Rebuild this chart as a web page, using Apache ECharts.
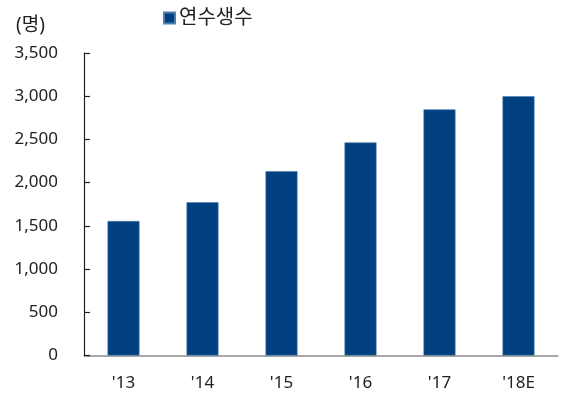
<!DOCTYPE html>
<html><head><meta charset="utf-8">
<script src="https://cdn.jsdelivr.net/npm/echarts@6/dist/echarts.min.js"></script>
<style>html,body{margin:0;padding:0;background:#fff}#c{width:561px;height:399px}</style>
</head><body><div id="c"></div>
<script>
const categories = ["'13", "'14", "'15", "'16", "'17", "'18E"];
const trainees = [1556, 1773, 2133, 2465, 2848, 3000];
const seriesName = '연수생수';
const unitLabel = '(명)';
const yMin = 0, yMax = 3500, yStep = 500;

const FONT = '"Noto Sans", "Noto Sans CJK KR", sans-serif';
const chart = echarts.init(document.getElementById('c'), null, {renderer: 'canvas'});
chart.setOption({
  animation: false,
  textStyle: {fontFamily: FONT},
  title: {text: unitLabel, left: 11, top: 11, textStyle: {fontSize: 19, fontWeight: 'normal', color: '#222', fontFamily: FONT}},
  legend: {left: 158, top: 3, icon: 'rect', itemWidth: 11, itemHeight: 11, itemGap: 4,
    textStyle: {fontSize: 20, color: '#222', fontFamily: FONT, padding: [0,0,0,-1]}, data: [seriesName]},
  grid: {left: 84, right: 3, top: 53, bottom: 43.5, containLabel: false},
  xAxis: {type: 'category', data: categories, boundaryGap: true,
    axisLine: {lineStyle: {color: '#8c8c8c', width: 1.5}},
    axisTick: {inside: true, length: 5, lineStyle: {color: '#8c8c8c', width: 1.5}},
    axisLabel: {fontSize: 17, color: '#222', margin: 19, fontFamily: FONT}},
  yAxis: {type: 'value', min: yMin, max: yMax, interval: yStep,
    axisLine: {show: true, lineStyle: {color: '#222', width: 1.2}},
    axisTick: {show: true, inside: true, length: 6, lineStyle: {color: '#222', width: 1.2}},
    splitLine: {show: false},
    axisLabel: {fontSize: 17, color: '#222', margin: 26, fontFamily: FONT,
      formatter: v => v.toLocaleString('en-US')}},
  series: [{name: seriesName, type: 'bar', data: trainees, barWidth: '40.5%',
    itemStyle: {color: '#004080', borderColor: '#4f7fae', borderWidth: 0.6}}]
});
</script></body></html>
